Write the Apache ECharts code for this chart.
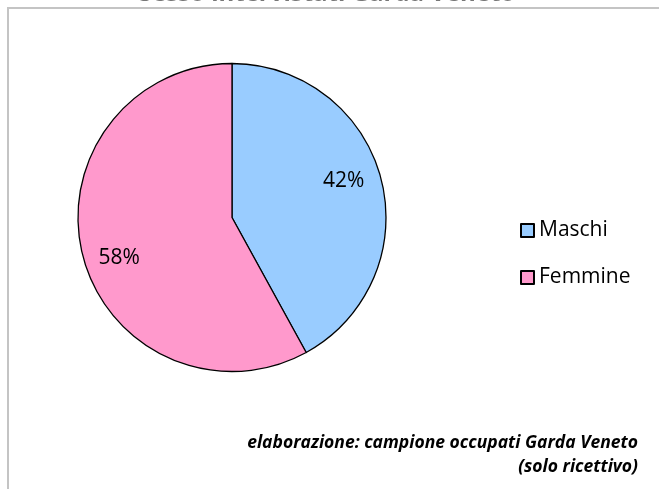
<!DOCTYPE html>
<html>
<head>
<meta charset="utf-8">
<script src="https://cdn.jsdelivr.net/npm/echarts@6/dist/echarts.min.js"></script>
<style>
html,body{margin:0;padding:0;background:#fff;}
#chart{width:659px;height:489px;}
</style>
</head>
<body>
<div id="chart"></div>
<script>
var categories = ['Maschi', 'Femmine'];
var values = [42, 58];
var colors = ['#99CCFF', '#FF99CC'];
var titleText = 'Sesso intervistati Garda Veneto';
var noteLines = ['elaborazione: campione occupati Garda Veneto', '(solo ricettivo)'];

var labelOffsets = [[-3, -7], [2, 11]];
var FONT = '"Open Sans", "Liberation Sans", sans-serif';

var chart = echarts.init(document.getElementById('chart'), null, {renderer: 'canvas'});

var mainData = categories.map(function (c, i) {
  return { name: c, value: values[i], itemStyle: { color: colors[i] } };
});
var labelData = categories.map(function (c, i) {
  return { name: c, value: values[i], label: { offset: labelOffsets[i] } };
});

var option = {
  animation: false,
  backgroundColor: '#ffffff',
  legend: {
    orient: 'vertical',
    left: 515,
    top: 215,
    data: categories,
    itemWidth: 13,
    itemHeight: 13,
    itemGap: 26,
    icon: 'rect',
    textStyle: { fontFamily: FONT, fontSize: 21, color: '#000', lineHeight: 20 },
    selectedMode: false
  },
  series: [
    {
      type: 'pie',
      center: [232, 217.5],
      radius: 154,
      startAngle: 90,
      clockwise: true,
      silent: true,
      label: { show: false },
      labelLine: { show: false },
      itemStyle: { borderColor: '#000', borderWidth: 1.3 },
      emphasis: { disabled: true },
      data: mainData
    },
    {
      type: 'pie',
      center: [232, 217.5],
      radius: [77, 154],
      startAngle: 90,
      clockwise: true,
      silent: true,
      legendHoverLink: false,
      itemStyle: { color: 'rgba(0,0,0,0)', borderWidth: 0 },
      label: {
        show: true,
        position: 'inside',
        formatter: '{c}%',
        fontFamily: FONT,
        fontSize: 21,
        color: '#000'
      },
      labelLine: { show: false },
      emphasis: { disabled: true },
      data: labelData
    }
  ],
  graphic: [
    {
      type: 'rect',
      shape: { x: 8, y: 8, width: 700, height: 520 },
      style: { fill: 'none', stroke: '#c4c4c4', lineWidth: 2 },
      z: -1,
      silent: true
    },
    {
      type: 'text',
      x: 327,
      y: -6,
      style: {
        text: titleText,
        fontFamily: FONT,
        fontSize: 24,
        fontWeight: 'bold',
        fill: '#777',
        align: 'center',
        verticalAlign: 'middle'
      },
      silent: true
    },
    {
      type: 'text',
      x: 638,
      y: 443,
      style: {
        text: noteLines[0],
        fontFamily: FONT,
        fontSize: 17.5,
        fontWeight: 'bold',
        fontStyle: 'italic',
        fill: '#000',
        align: 'right',
        verticalAlign: 'middle'
      },
      silent: true
    },
    {
      type: 'text',
      x: 638,
      y: 467,
      style: {
        text: noteLines[1],
        fontFamily: FONT,
        fontSize: 17.5,
        fontWeight: 'bold',
        fontStyle: 'italic',
        fill: '#000',
        align: 'right',
        verticalAlign: 'middle'
      },
      silent: true
    }
  ]
};
chart.setOption(option);
</script>
</body>
</html>
